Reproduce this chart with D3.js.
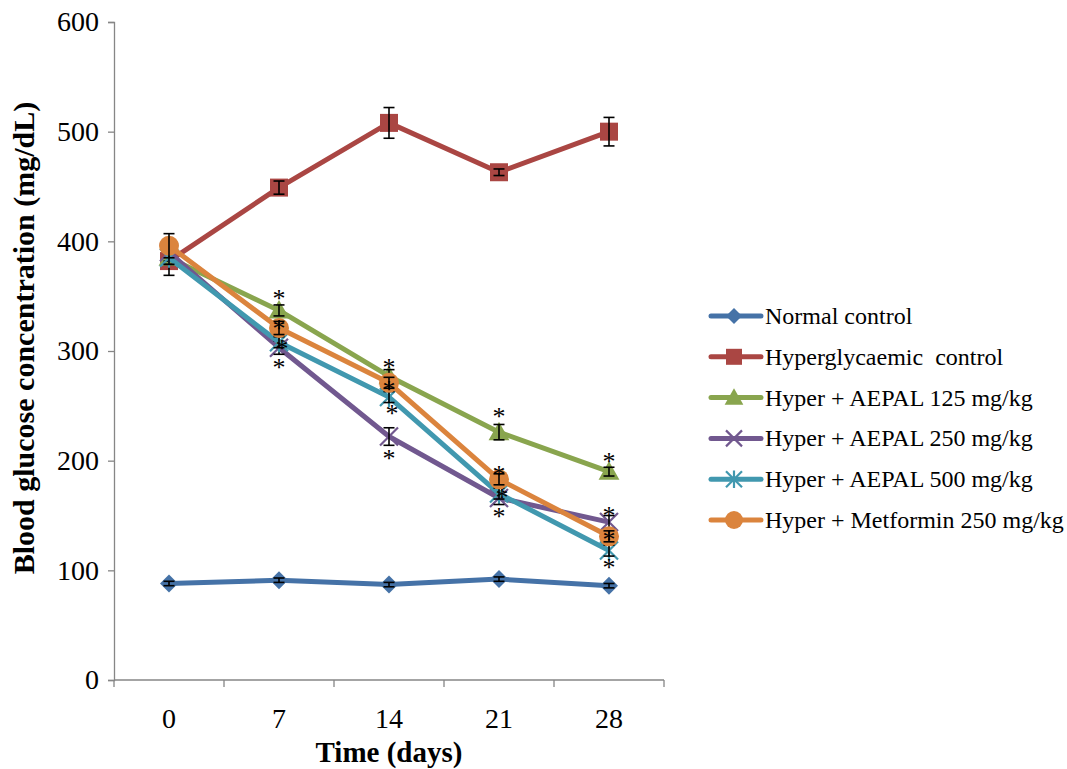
<!DOCTYPE html>
<meta charset="utf-8">
<style>
  body { margin: 0; background: #fff; }
  text { font-family: "Liberation Serif", "Times New Roman", serif; }
</style>
<body>
<div id="chart"></div>
</body>
<script src="https://d3js.org/d3.v7.min.js"></script>
<script>

var days = ["0", "7", "14", "21", "28"];
var yTicks = [0, 100, 200, 300, 400, 500, 600];

var seriesNames = ["Normal control", "Hyperglycaemic  control", "Hyper + AEPAL 125 mg/kg",
                   "Hyper + AEPAL 250 mg/kg", "Hyper + AEPAL 500 mg/kg", "Hyper + Metformin 250 mg/kg"];
var seriesColors = ["#4572A7", "#AA4643", "#89A54E", "#71588F", "#4198AF", "#DB843D"];
var seriesMarkers = ["diamond", "square", "triangle", "x", "star", "circle"];

var normalControl = [88, 91, 87, 92, 86];
var hyperControl = [382, 449, 508, 463, 500];
var aepal125 = [385, 337, 277, 226, 190];
var aepal250 = [390, 303, 222, 166, 144];
var aepal500 = [385, 308, 258, 170, 118];
var metformin = [396, 321, 271, 183, 131];

var normalErr = [2, 2, 2, 2, 2];
var hyperErr = [13, 6, 14, 3, 13];
var aepal125Err = [6, 5, 6, 7, 4];
var aepal250Err = [8, 6, 8, 6, 6];
var aepal500Err = [6, 5, 5, 5, 5];
var metforminErr = [11, 6, 5, 5, 5];

var values = [normalControl, hyperControl, aepal125, aepal250, aepal500, metformin];
var errors = [normalErr, hyperErr, aepal125Err, aepal250Err, aepal500Err, metforminErr];

// significance asterisks: [series index, day index, pixel offset from point]
var stars = [
  [2, 1, -15], [5, 1, -3], [4, 1, 3], [3, 1, 16],
  [2, 2, -12], [5, 2, 3], [4, 2, 13], [3, 2, 18],
  [2, 3, -19], [5, 3, -8], [4, 3, 0], [3, 3, 15],
  [2, 4, -14], [3, 4, -10], [5, 4, 0], [4, 4, 13]
];

var width = 1067, height = 769;
var margin = {left: 114, right: 403, top: 22, bottom: 89};

var svg = d3.select("#chart").append("svg")
    .attr("width", width)
    .attr("height", height);

var x = d3.scaleBand()
    .domain(days)
    .range([margin.left, width - margin.right]);

var y = d3.scaleLinear()
    .domain([0, 600])
    .range([height - margin.bottom, margin.top]);

function cx(i) { return x(days[i]) + x.bandwidth() / 2; }

// axes
var axisColor = "#868686";
var yAxis = svg.append("g")
    .attr("transform", "translate(" + margin.left + ",0)")
    .call(d3.axisLeft(y).tickValues(yTicks).tickSize(6).tickPadding(9));
yAxis.select(".domain").attr("stroke", axisColor).attr("stroke-width", 1.3);
yAxis.selectAll(".tick line").attr("stroke", axisColor).attr("stroke-width", 1.3);
yAxis.selectAll(".tick text")
    .attr("font-size", 28)
    .attr("fill", "#000");

var xAxisY = y(0);
var xAxis = svg.append("g");
xAxis.append("line")
    .attr("x1", margin.left).attr("x2", width - margin.right)
    .attr("y1", xAxisY).attr("y2", xAxisY)
    .attr("stroke", axisColor).attr("stroke-width", 1.3);
var bounds = days.map(function(d) { return x(d); }).concat([width - margin.right]);
xAxis.selectAll(".xt").data(bounds).enter().append("line")
    .attr("x1", function(d) { return d; }).attr("x2", function(d) { return d; })
    .attr("y1", xAxisY).attr("y2", xAxisY + 7)
    .attr("stroke", axisColor).attr("stroke-width", 1.3);
xAxis.selectAll(".xl").data(days).enter().append("text")
    .attr("x", function(d, i) { return cx(i); })
    .attr("y", xAxisY + 48)
    .attr("text-anchor", "middle")
    .attr("font-size", 28)
    .text(function(d) { return d; });

svg.append("text")
    .attr("x", (margin.left + width - margin.right) / 2)
    .attr("y", 762)
    .attr("text-anchor", "middle")
    .attr("font-size", 29)
    .attr("font-weight", "bold")
    .text("Time (days)");

svg.append("text")
    .attr("transform", "translate(34," + 338 + ") rotate(-90)")
    .attr("text-anchor", "middle")
    .attr("font-size", 30)
    .attr("font-weight", "bold")
    .text("Blood glucose concentration (mg/dL)");

// markers
function drawMarker(g, type, px, py, color, s) {
  if (type === "diamond") {
    g.append("path")
      .attr("d", "M" + px + "," + (py - s) + "L" + (px + s) + "," + py + "L" + px + "," + (py + s) + "L" + (px - s) + "," + py + "Z")
      .attr("fill", color);
  } else if (type === "square") {
    g.append("rect")
      .attr("x", px - s).attr("y", py - s).attr("width", 2 * s).attr("height", 2 * s)
      .attr("fill", color);
  } else if (type === "triangle") {
    g.append("path")
      .attr("d", "M" + px + "," + (py - s * 1.1) + "L" + (px + s * 1.1) + "," + (py + s * 0.85) + "L" + (px - s * 1.1) + "," + (py + s * 0.85) + "Z")
      .attr("fill", color);
  } else if (type === "x") {
    g.append("path")
      .attr("d", "M" + (px - s) + "," + (py - s) + "L" + (px + s) + "," + (py + s) + "M" + (px + s) + "," + (py - s) + "L" + (px - s) + "," + (py + s))
      .attr("stroke", color).attr("stroke-width", 2.2).attr("fill", "none");
  } else if (type === "star") {
    g.append("path")
      .attr("d", "M" + (px - s) + "," + (py - s) + "L" + (px + s) + "," + (py + s) + "M" + (px + s) + "," + (py - s) + "L" + (px - s) + "," + (py + s) + "M" + px + "," + (py - s * 1.1) + "L" + px + "," + (py + s * 1.1))
      .attr("stroke", color).attr("stroke-width", 2.2).attr("fill", "none");
  } else {
    g.append("circle").attr("cx", px).attr("cy", py).attr("r", s).attr("fill", color);
  }
}
var markerSize = [9, 9, 9.5, 9, 9, 10];

var line = d3.line()
    .x(function(d, i) { return cx(i); })
    .y(function(d) { return y(d); });

values.forEach(function(vals, si) {
  var g = svg.append("g");
  g.append("path")
    .datum(vals)
    .attr("d", line)
    .attr("fill", "none")
    .attr("stroke", seriesColors[si])
    .attr("stroke-width", 5)
    .attr("stroke-linejoin", "round");
  vals.forEach(function(v, i) {
    drawMarker(g, seriesMarkers[si], cx(i), y(v), seriesColors[si], markerSize[si]);
  });
  vals.forEach(function(v, i) {
    var e = errors[si][i], px = cx(i);
    var eg = g.append("g").attr("stroke", "#000").attr("stroke-width", 1.6);
    eg.append("line").attr("x1", px).attr("x2", px).attr("y1", y(v + e)).attr("y2", y(v - e));
    eg.append("line").attr("x1", px - 5.5).attr("x2", px + 5.5).attr("y1", y(v + e)).attr("y2", y(v + e));
    eg.append("line").attr("x1", px - 5.5).attr("x2", px + 5.5).attr("y1", y(v - e)).attr("y2", y(v - e));
  });
});

// asterisks
svg.append("g").selectAll("text").data(stars).enter().append("text")
    .attr("x", function(d) { return cx(d[1]) + (d[0] === 4 && d[1] < 4 ? 3 : 0); })
    .attr("y", function(d) { return y(values[d[0]][d[1]]) + d[2] + 12; })
    .attr("text-anchor", "middle")
    .attr("font-size", 26)
    .text("*");

// legend
var legend = svg.append("g");
seriesNames.forEach(function(name, i) {
  var ly = 316 + i * 40.8;
  legend.append("line")
    .attr("x1", 711).attr("x2", 761).attr("y1", ly).attr("y2", ly)
    .attr("stroke", seriesColors[i]).attr("stroke-width", 5)
    .attr("stroke-linecap", "round");
  drawMarker(legend, seriesMarkers[i], 734, ly, seriesColors[i], markerSize[i] - 1);
  legend.append("text")
    .attr("x", 765).attr("y", ly + 8)
    .attr("font-size", 24)
    .attr("xml:space", "preserve")
    .style("white-space", "pre")
    .text(name);
});

</script>
